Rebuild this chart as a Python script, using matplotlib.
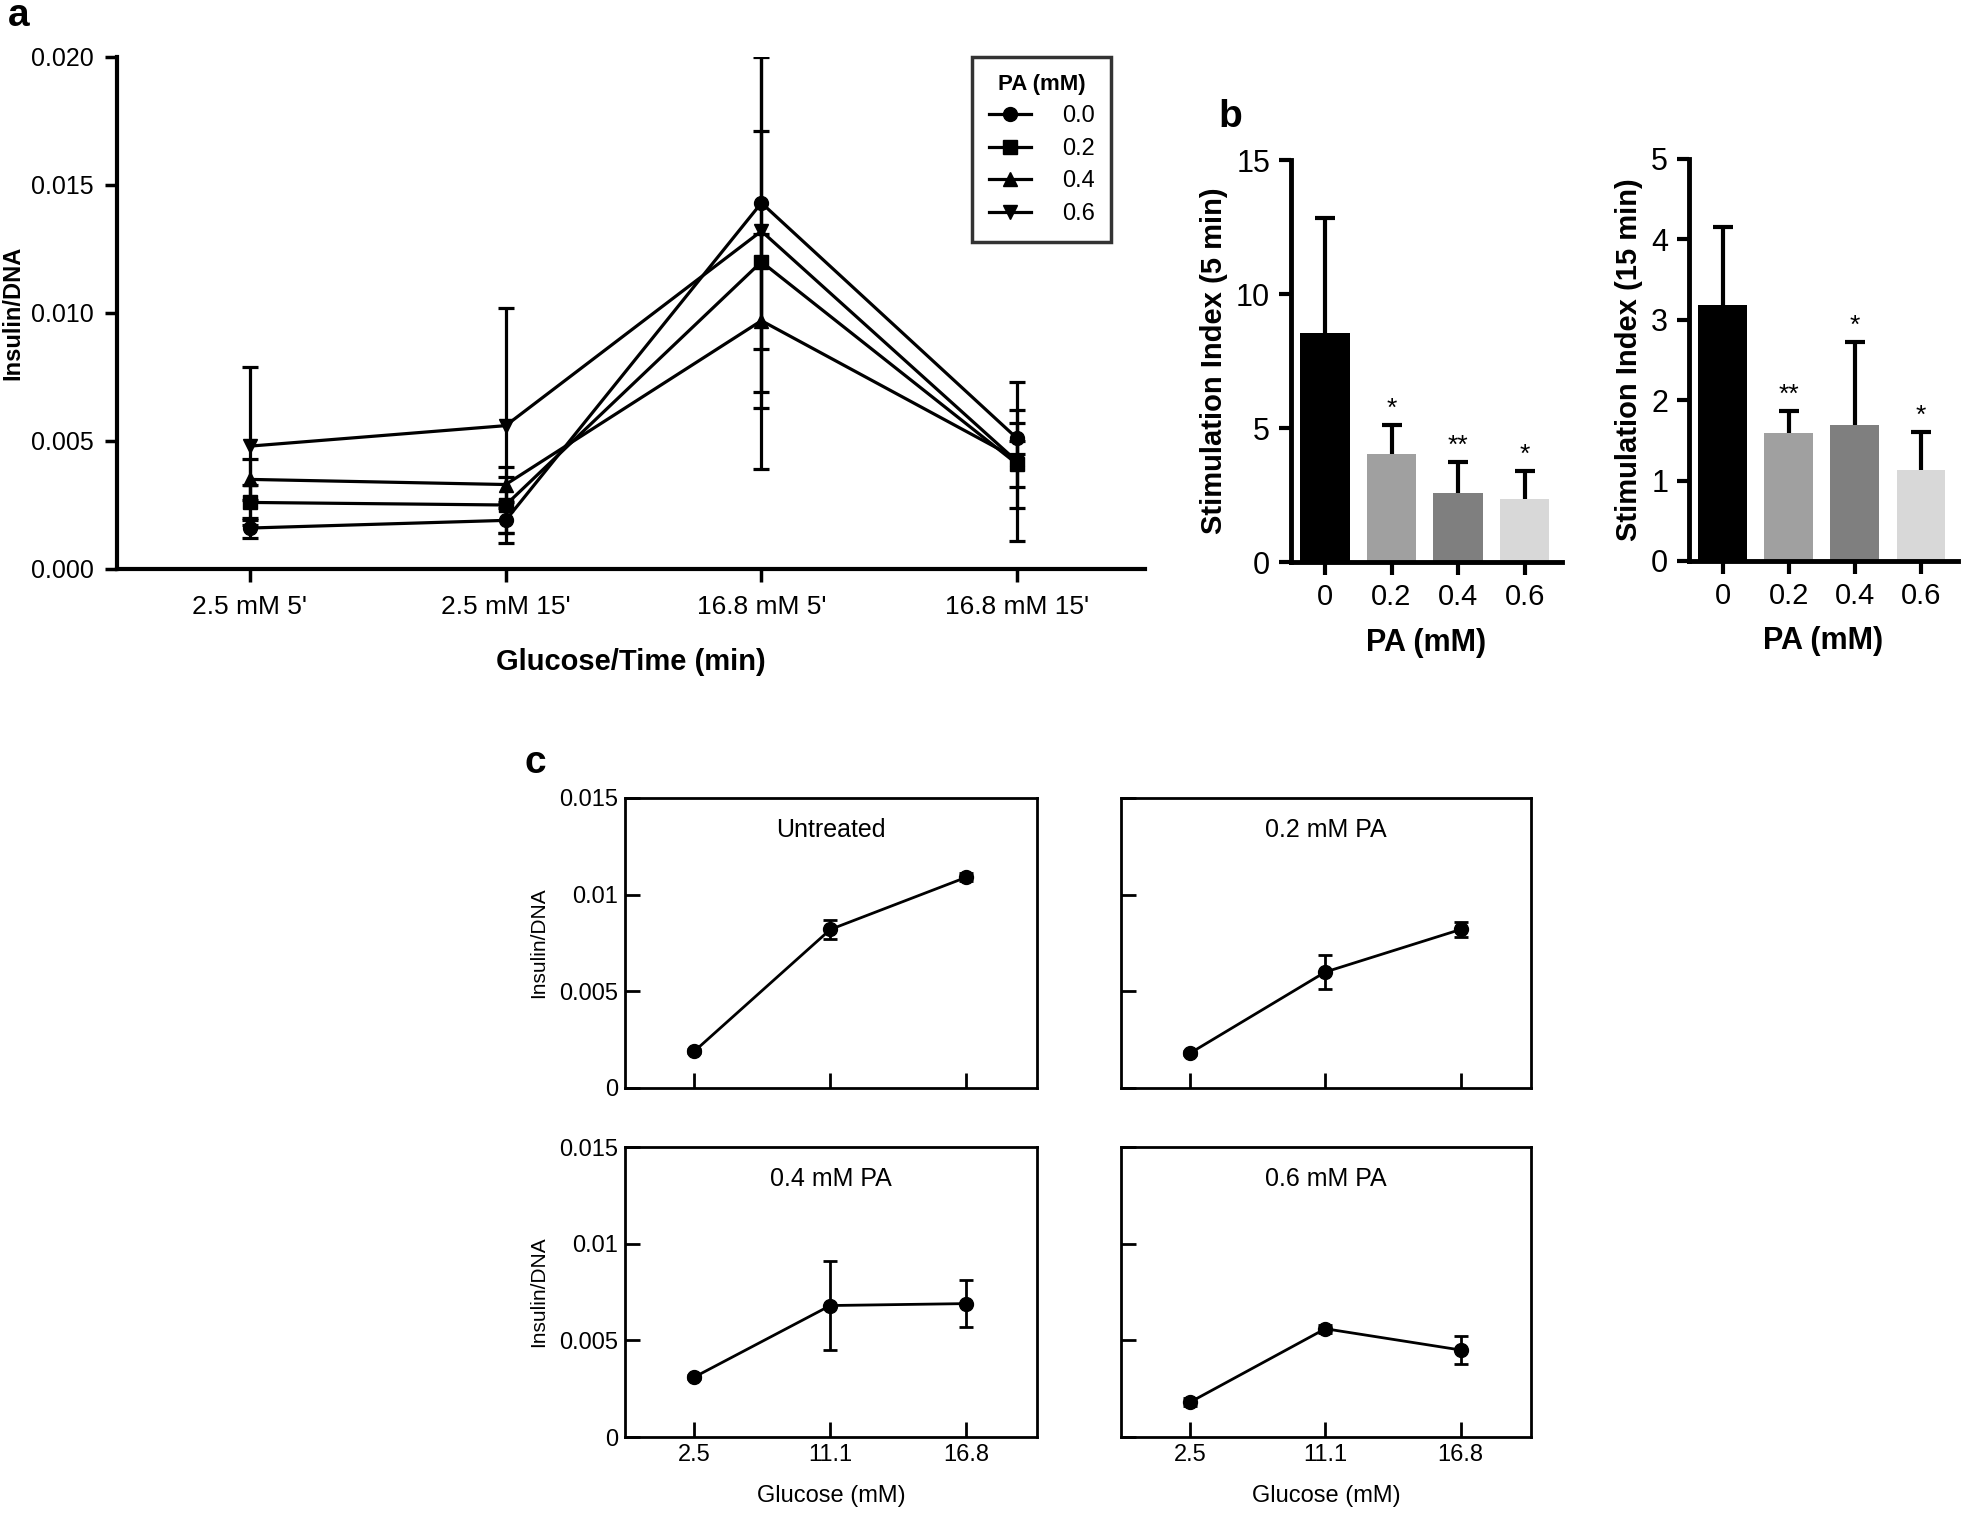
import matplotlib
matplotlib.use("Agg")
import matplotlib.pyplot as plt
from matplotlib.lines import Line2D
import numpy as np

# fonts: Arial-like and Arial Narrow-like
REG = ["Liberation Sans", "DejaVu Sans"]
NAR = ["Liberation Sans Narrow", "Liberation Sans", "DejaVu Sans"]
plt.rcParams["font.family"] = REG

# ---- panel a data ----
time_labels = ["2.5 mM 5'", "2.5 mM 15'", "16.8 mM 5'", "16.8 mM 15'"]
pa_levels = ["0.0", "0.2", "0.4", "0.6"]
ins_00 = [0.0016, 0.0019, 0.0143, 0.0051]
err_00 = [0.0004, 0.0005, 0.0057, 0.0006]
ins_02 = [0.0026, 0.0025, 0.0120, 0.0041]
err_02 = [0.0007, 0.0011, 0.0051, 0.0009]
ins_04 = [0.0035, 0.0033, 0.0097, 0.0043]
err_04 = [0.0008, 0.0007, 0.0034, 0.0019]
ins_06 = [0.0048, 0.0056, 0.0132, 0.0042]
err_06 = [0.0031, 0.0046, 0.0093, 0.0031]

# ---- panel b data ----
pa_ticks = ["0", "0.2", "0.4", "0.6"]
si_5min = [8.55, 4.03, 2.58, 2.36]
si_5min_err = [4.30, 1.08, 1.16, 1.02]
si_5min_sig = ["", "*", "**", "*"]
si_15min = [3.19, 1.59, 1.69, 1.13]
si_15min_err = [0.97, 0.27, 1.03, 0.48]
si_15min_sig = ["", "**", "*", "*"]
bar_colors = ["#000000", "#a0a0a0", "#7f7f7f", "#d8d8d8"]

# ---- panel c data ----
glucose = ["2.5", "11.1", "16.8"]
c_titles = ["Untreated", "0.2 mM PA", "0.4 mM PA", "0.6 mM PA"]
c_untreated = [0.0019, 0.0082, 0.0109]
c_untreated_err = [0.0001, 0.0005, 0.0002]
c_pa02 = [0.0018, 0.0060, 0.0082]
c_pa02_err = [0.0001, 0.0009, 0.0004]
c_pa04 = [0.0031, 0.0068, 0.0069]
c_pa04_err = [0.0001, 0.0023, 0.0012]
c_pa06 = [0.0018, 0.0056, 0.0045]
c_pa06_err = [0.0002, 0.0002, 0.0007]

W, H = 1961, 1517
fig = plt.figure(figsize=(W / 100, H / 100), dpi=100)


def box(l, r, t, b):
    return [l / W, 1 - b / H, (r - l) / W, (b - t) / H]


# ================= panel a =================
ax = fig.add_axes(box(117, 1145, 57, 569))
xa = np.arange(len(time_labels))
markers = ["o", "s", "^", "v"]
series = [(ins_00, err_00), (ins_02, err_02), (ins_04, err_04), (ins_06, err_06)]
for (vals, errs), m in zip(series, markers):
    ax.errorbar(xa, vals, yerr=errs, color="black", marker=m, ms=10, lw=2.3,
                elinewidth=2.3, capsize=6, capthick=2.3)
ax.set_xlim(-0.52, 3.5)
ax.set_ylim(0, 0.020)
ax.set_yticks(np.arange(0, 0.0201, 0.005))
ax.set_yticklabels(["%.3f" % v for v in np.arange(0, 0.0201, 0.005)],
                   family=NAR, fontsize=18)
ax.set_xticks(xa)
ax.set_xticklabels(time_labels, family=NAR, fontsize=19)
for s in ["top", "right"]:
    ax.spines[s].set_visible(False)
for s in ["left", "bottom"]:
    ax.spines[s].set_linewidth(3)
ax.tick_params(direction="out", width=2.5, length=9, pad=8)
ax.tick_params(axis="x", pad=10)
ax.set_ylabel("Insulin/DNA", fontsize=17, fontweight="bold")
ax.yaxis.set_label_coords(-0.09, 0.5)
ax.set_xlabel("Glucose/Time (min)", family=NAR, fontsize=21, fontweight="bold")
ax.xaxis.set_label_coords(0.5, -0.155)
handles = [Line2D([], [], color="black", marker=m, ms=10, lw=2.3) for m in markers]
leg = ax.legend(handles, pa_levels, title="PA (mM)", loc="upper left",
                bbox_to_anchor=(0.832, 1.0), borderaxespad=0,
                fontsize=17, title_fontproperties={"weight": "bold", "size": 16},
                frameon=True, fancybox=False, edgecolor="black",
                handlelength=1.8, borderpad=0.7, labelspacing=0.45,
                handletextpad=1.3)
leg.get_frame().set_linewidth(2.5)
fig.text(8 / W, 1 - 16 / H, "a", fontsize=28, fontweight="bold", va="center")

# ================= panel b =================
def bar_panel(pos, vals, errs, sig, ymax, yt, ylabel):
    axb = fig.add_axes(pos)
    xb = np.arange(len(vals))
    axb.bar(xb, vals, width=0.74, color=bar_colors, zorder=2)
    eb = axb.errorbar(xb, vals, yerr=[np.zeros(len(vals)), errs], fmt="none",
                      ecolor="black", elinewidth=3, capsize=7, capthick=3, zorder=1)
    eb[1][0].set_visible(False)  # no cap at the bar top
    for xi, v, e, s in zip(xb, vals, errs, sig):
        if s:
            axb.annotate(s, (xi, v + e), xytext=(0, 3), textcoords="offset points",
                         ha="center", va="bottom", fontsize=19)
    axb.set_ylim(0, ymax)
    axb.set_xlim(-0.51, 3.56)
    axb.set_yticks(yt)
    axb.set_yticklabels([str(t) for t in yt], family=NAR, fontsize=22)
    axb.set_xticks(xb)
    axb.set_xticklabels(pa_ticks, family=NAR, fontsize=21)
    for s in ["top", "right"]:
        axb.spines[s].set_visible(False)
    for s in ["left", "bottom"]:
        axb.spines[s].set_linewidth(3.5)
    axb.tick_params(direction="out", width=3, length=9, pad=6)
    axb.set_ylabel(ylabel, fontsize=21, fontweight="bold", labelpad=6)
    axb.set_xlabel("PA (mM)", family=NAR, fontsize=22, fontweight="bold",
                   labelpad=12)
    return axb


bar_panel(box(1291, 1562, 160, 562), si_5min, si_5min_err, si_5min_sig, 15,
          [0, 5, 10, 15], "Stimulation Index (5 min)")
bar_panel(box(1689, 1958, 159, 561), si_15min, si_15min_err, si_15min_sig, 5,
          [0, 1, 2, 3, 4, 5], "Stimulation Index (15 min)")
fig.text(1218 / W, 1 - 117 / H, "b", fontsize=28, fontweight="bold", va="center")

# ================= panel c =================
c_vals = [c_untreated, c_pa02, c_pa04, c_pa06]
c_errs = [c_untreated_err, c_pa02_err, c_pa04_err, c_pa06_err]
c_pos = [box(625, 1037, 798, 1088), box(1121, 1531, 798, 1088),
         box(625, 1037, 1147, 1437), box(1121, 1531, 1147, 1437)]
xc = np.arange(len(glucose))
for i in range(4):
    axc = fig.add_axes(c_pos[i])
    axc.errorbar(xc, c_vals[i], yerr=c_errs[i], color="black", marker="o",
                 ms=10, lw=2, elinewidth=2, capsize=5, capthick=2)
    axc.set_xlim(-0.51, 2.52)
    axc.set_ylim(0, 0.015)
    axc.set_yticks([0, 0.005, 0.01, 0.015])
    axc.set_xticks(xc)
    for s in axc.spines.values():
        s.set_linewidth(2)
    axc.tick_params(direction="in", width=2, length=11, pad=5)
    axc.text(0.5, 0.89, c_titles[i], transform=axc.transAxes, ha="center",
             va="center", family=NAR, fontsize=18)
    if i % 2 == 0:
        axc.set_yticklabels(["0", "0.005", "0.01", "0.015"], family=NAR,
                            fontsize=17)
        axc.set_ylabel("Insulin/DNA", fontsize=15, labelpad=8)
    else:
        axc.set_yticklabels([])
    if i >= 2:
        axc.set_xticklabels(glucose, family=NAR, fontsize=17)
        axc.set_xlabel("Glucose (mM)", family=NAR, fontsize=17, labelpad=14)
    else:
        axc.set_xticklabels([])
fig.text(525 / W, 1 - 763 / H, "c", fontsize=28, fontweight="bold", va="center")

fig.savefig("out.png", dpi=100)
